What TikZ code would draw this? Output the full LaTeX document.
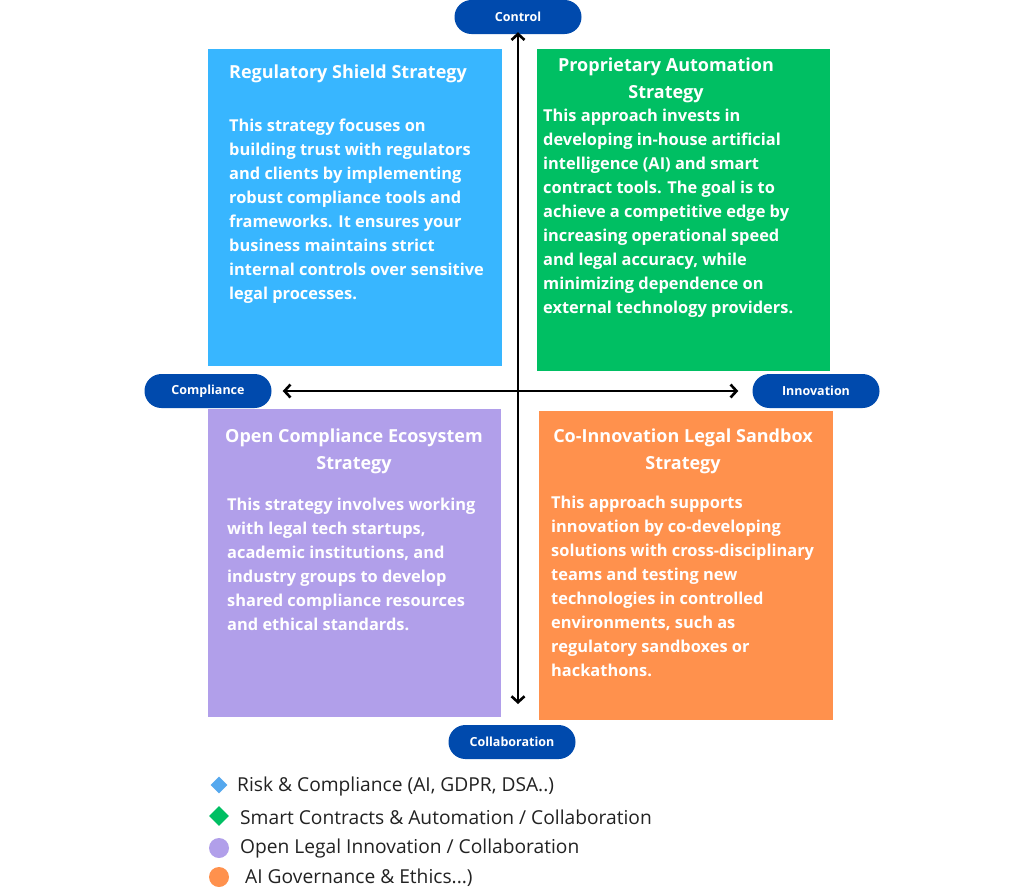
\documentclass[tikz,border=0pt]{standalone}
\usepackage{fontspec}
\setmainfont{Open Sans}
\usetikzlibrary{arrows.meta,shapes.geometric}

\definecolor{shieldblue}{HTML}{38B6FF}
\definecolor{autogreen}{HTML}{00BF63}
\definecolor{openpurple}{HTML}{B19FEA}
\definecolor{sandorange}{HTML}{FF914D}
\definecolor{pillblue}{HTML}{004AAD}
\definecolor{riskblue}{HTML}{55A8EE}
\definecolor{legendtext}{HTML}{222222}

\begin{document}
\begin{tikzpicture}[
    x=1pt,y=-1pt,
    Title/.style={text=white,font=\fontsize{18}{27}\selectfont\bfseries,align=center},
    Body/.style={text=white,font=\fontsize{16.4}{24}\selectfont\bfseries,align=left,anchor=north west,inner sep=0pt},
    Pill/.style={rectangle,rounded corners=16.9pt,fill=pillblue,text=white,minimum width=127pt,minimum height=34pt,inner sep=0pt,font=\fontsize{12.5}{14}\selectfont\bfseries},
    Axis/.style={{Straight Barb[length=6pt,width=13pt]}-{Straight Barb[length=6pt,width=13pt]},line width=2.6pt},
    Marker/.style={inner sep=0pt,minimum size=14pt},
    Legend/.style={anchor=west,text=legendtext,font=\fontsize{19.2}{22}\selectfont,inner sep=0pt},
    ]

    \useasboundingbox[fill=white] (0,0) rectangle (1024,887);

    % quadrant boxes
    \fill[shieldblue] (208,49)  rectangle (502,366);
    \fill[autogreen]  (537,49)  rectangle (830,371);
    \fill[openpurple] (208,409) rectangle (501,717);
    \fill[sandorange] (539,411) rectangle (833,720);

    % axes labels
    \node[Pill] (Control)       at (518,17)  {Control};
    \node[Pill] (Compliance)    at (208,391) {Compliance};
    \node[Pill] (Innovation)    at (816,391) {Innovation};
    \node[Pill] (Collaboration) at (512,742) {Collaboration};

    \coordinate (top)    at ([yshift=2pt]Control.south);
    \coordinate (bottom) at (top |- 0,704);
    \coordinate (left)   at ([xshift=11pt]Compliance.east);
    \coordinate (right)  at ([xshift=-14pt]Innovation.west);
    \draw[Axis] (top) -- (bottom);
    \draw[Axis] (left) -- (right);

    % titles
    \node[Title] (ShieldTitle)  at (348,74)  {Regulatory Shield Strategy};
    \node[Title] (AutoTitle)    at (666,80)  {Proprietary Automation\\Strategy};
    \node[Title] (OpenTitle)    at (354,451) {Open Compliance Ecosystem\\Strategy};
    \node[Title] (SandboxTitle) at (683,451) {Co-Innovation Legal Sandbox\\Strategy};

    % descriptions
    \node[Body] (ShieldText) at (229,119) {This strategy focuses on\\building trust with regulators\\and clients by implementing\\robust compliance tools and\\frameworks. It ensures your\\business maintains strict\\internal controls over sensitive\\legal processes.};
    \node[Body] (AutoText) at (543,109) {This approach invests in\\developing in-house artificial\\intelligence (AI) and smart\\contract tools. The goal is to\\achieve a competitive edge by\\increasing operational speed\\and legal accuracy, while\\minimizing dependence on\\external technology providers.};
    \node[Body] (OpenText) at (227,498) {This strategy involves working\\with legal tech startups,\\academic institutions, and\\industry groups to develop\\shared compliance resources\\and ethical standards.};
    \node[Body] (SandboxText) at (551,496) {This approach supports\\innovation by co-developing\\solutions with cross-disciplinary\\teams and testing new\\technologies in controlled\\environments, such as\\regulatory sandboxes or\\hackathons.};

    % legend
    \node[Marker,diamond,fill=riskblue,minimum size=17pt] (RiskMark) at (219,785) {};
    \node[Marker,diamond,fill=autogreen,minimum size=20pt] (SmartMark) at (219,816) {};
    \node[Marker,circle,fill=openpurple,minimum size=20pt] (OpenMark) at (219,848) {};
    \node[Marker,circle,fill=sandorange,minimum size=20pt] (GovMark) at (219,877) {};

    \node[Legend] (RiskText)  at (237,786) {Risk \& Compliance (AI, GDPR, DSA..)};
    \node[Legend] (SmartText) at (240,817) {Smart Contracts \& Automation / Collaboration};
    \node[Legend] (OpenLeg)   at (240,848) {Open Legal Innovation / Collaboration};
    \node[Legend] (GovText)   at (245,878) {AI Governance \& Ethics...)};
  \end{tikzpicture}
\end{document}
